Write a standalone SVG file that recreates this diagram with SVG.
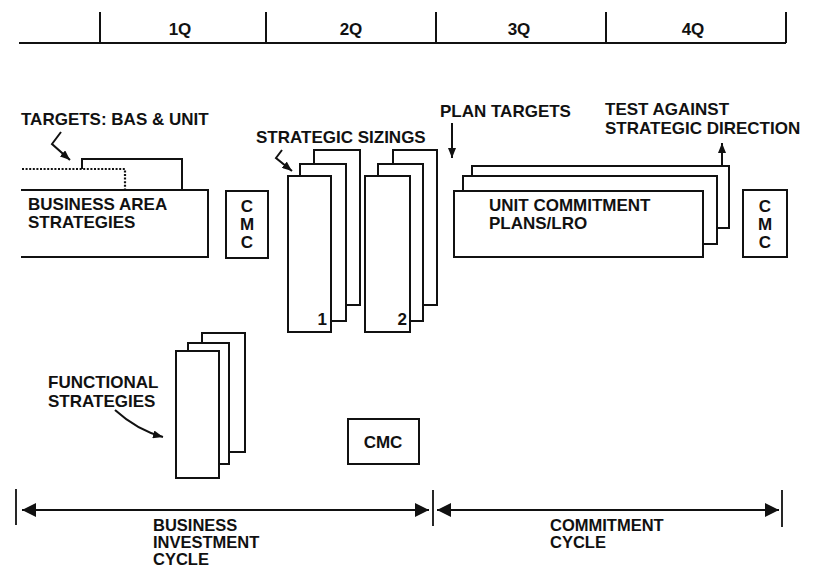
<svg xmlns="http://www.w3.org/2000/svg" width="814" height="569" viewBox="0 0 814 569">
<defs>
<style>
.ln{stroke:#111;stroke-width:2;fill:none}
.bx{stroke:#111;stroke-width:2;fill:#fff}
.tk{stroke:#111;stroke-width:1.8;fill:none}
.dot{stroke:#111;stroke-width:2.2;fill:none;stroke-dasharray:2 1.6}
text{font-family:"Liberation Sans",Arial,Helvetica,sans-serif;font-size:17px;font-weight:bold;fill:#111}
.c{text-anchor:middle}
.e{text-anchor:end}
.sm{font-size:16.5px}
</style>
<marker id="big" viewBox="0 0 14 14" refX="14" refY="7" markerWidth="14" markerHeight="14" markerUnits="userSpaceOnUse" orient="auto-start-reverse"><path d="M0,0 L14,7 L0,14 z" fill="#111"/></marker>
<marker id="sm" viewBox="0 0 10 8" refX="10" refY="4" markerWidth="10" markerHeight="8" markerUnits="userSpaceOnUse" orient="auto"><path d="M0,0 L10,4 L0,8 z" fill="#111"/></marker>
</defs>
<rect width="814" height="569" fill="#fff"/>

<g id="timeline">
<path class="ln" d="M19,43 H786 M100,12 V43 M266,12 V43 M436,12 V43 M606,12 V43 M786,12 V43"/>
<text class="c" x="180" y="35">1Q</text>
<text class="c" x="351" y="35">2Q</text>
<text class="c" x="519" y="35">3Q</text>
<text class="c" x="693" y="35">4Q</text>
</g>

<g id="business-area">
<path class="ln" d="M82,169 V159 H182 V190"/>
<path class="dot" d="M22,169 H125 V190"/>
<path class="ln" d="M21,190 H208 V257 H21"/>
<text x="28" y="210">BUSINESS AREA</text>
<text x="28" y="228">STRATEGIES</text>
</g>

<g id="targets-label">
<text x="21" y="125">TARGETS: BAS &amp; UNIT</text>
</g>

<g id="cmc-1">
<rect class="bx" x="226" y="191" width="42" height="67"/>
<text class="c" x="247" y="212">C</text>
<text class="c" x="247" y="230">M</text>
<text class="c" x="247" y="248">C</text>
</g>

<g id="strategic-sizings-label">
<text x="256" y="143">STRATEGIC SIZINGS</text>
</g>

<g id="sizing-1">
<rect class="bx" x="314" y="150" width="46" height="155"/>
<rect class="bx" x="300" y="164" width="46" height="157"/>
<rect class="bx" x="288" y="176" width="43" height="156"/>
<text class="e" x="327" y="325">1</text>
</g>

<g id="sizing-2">
<rect class="bx" x="393" y="150" width="44" height="155"/>
<rect class="bx" x="378" y="164" width="45" height="157"/>
<rect class="bx" x="365" y="176" width="45" height="156"/>
<text class="e" x="407" y="325">2</text>
</g>

<g id="plan-targets-label">
<text x="440" y="117">PLAN TARGETS</text>
</g>

<g id="test-label">
<text x="605" y="115">TEST AGAINST</text>
<text x="605" y="134">STRATEGIC DIRECTION</text>
</g>

<g id="unit-commitment">
<rect class="bx" x="472" y="166" width="257" height="62"/>
<rect class="bx" x="463" y="176" width="254" height="68"/>
<rect class="bx" x="454" y="191" width="249" height="66"/>
<text x="489" y="211">UNIT COMMITMENT</text>
<text x="489" y="229">PLANS/LRO</text>
</g>

<g id="cmc-2">
<rect class="bx" x="743" y="190" width="44" height="67"/>
<text class="c" x="765" y="212">C</text>
<text class="c" x="765" y="230">M</text>
<text class="c" x="765" y="248">C</text>
</g>

<g id="functional">
<rect class="bx" x="202" y="333" width="43" height="119"/>
<rect class="bx" x="188" y="343" width="41" height="121"/>
<rect class="bx" x="176" y="351" width="43" height="127"/>
</g>

<g id="functional-label">
<text x="48" y="388">FUNCTIONAL</text>
<text x="48" y="407">STRATEGIES</text>
</g>

<g id="cmc-3">
<rect class="bx" x="348" y="419" width="71" height="45"/>
<text class="c" x="383" y="448">CMC</text>
</g>

<g id="cycle-labels">
<text class="sm" x="153" y="531">BUSINESS</text>
<text class="sm" x="153" y="548">INVESTMENT</text>
<text class="sm" x="153" y="565">CYCLE</text>
<text class="sm" x="550" y="531">COMMITMENT</text>
<text class="sm" x="550" y="548">CYCLE</text>
</g>

<g id="connectors">
<path class="ln" stroke-width="1.6" d="M61,132 L52,144 L70,160" marker-end="url(#sm)"/>
<path class="ln" stroke-width="1.6" d="M282,150 L276,158 L292,171" marker-end="url(#sm)"/>
<path class="ln" stroke-width="1.6" d="M452,123 V158" marker-end="url(#sm)"/>
<path class="ln" stroke-width="1.6" d="M722,166 V143" marker-end="url(#sm)"/>
<path class="ln" stroke-width="1.6" d="M115,410 Q137,430 163,437" marker-end="url(#sm)"/>
<path class="tk" d="M16,489 V525 M433,490 V526 M782,490 V527"/>
<path class="ln" d="M22,510 H429" marker-start="url(#big)" marker-end="url(#big)"/>
<path class="ln" d="M437,510 H779" marker-start="url(#big)" marker-end="url(#big)"/>
</g>
</svg>
